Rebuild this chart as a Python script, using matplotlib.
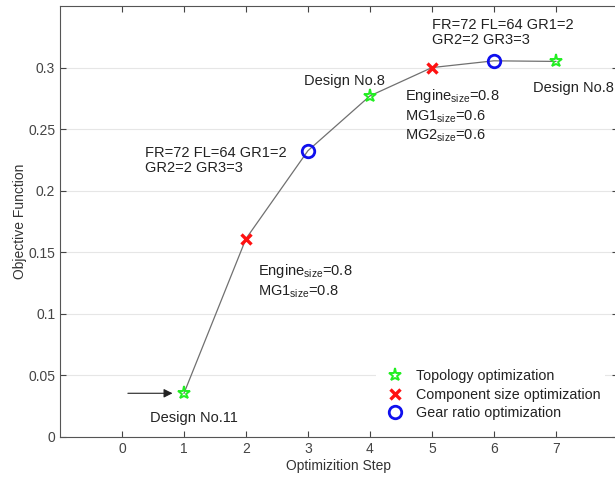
import matplotlib
matplotlib.use("Agg")
import matplotlib.pyplot as plt

plt.rcParams['font.family'] = ['Liberation Sans', 'DejaVu Sans']
plt.rcParams['mathtext.fontset'] = 'custom'
plt.rcParams['mathtext.rm'] = 'Liberation Sans'
plt.rcParams['mathtext.it'] = 'Liberation Sans'

steps = [1, 2, 3, 4, 5, 6, 7]
objective = [0.0355, 0.161, 0.2325, 0.277, 0.300, 0.3055, 0.305]
kinds = ['topo', 'size', 'gear', 'topo', 'size', 'gear', 'topo']

xticks = [0, 1, 2, 3, 4, 5, 6, 7]
yticks = [0, 0.05, 0.1, 0.15, 0.2, 0.25, 0.3]
ytick_labels = ['0', '0.05', '0.1', '0.15', '0.2', '0.25', '0.3']

fig = plt.figure(figsize=(6.15, 4.78), dpi=100)
ax = fig.add_axes([0.0976, 0.0858, 0.907, 0.9016])

ax.plot(steps, objective, color='#707070', lw=0.9, zorder=2)

styles = {
    'topo': dict(marker='*', color='none', mec='#22ee22', mew=1.4, ms=9.5, label='Topology optimization'),
    'size': dict(marker='x', color='none', mec='#ff1111', mew=2.4, ms=7, label='Component size optimization'),
    'gear': dict(marker='o', color='none', mec='#1010ee', mew=2.0, ms=9, label='Gear ratio optimization'),
}
for k in ['topo', 'size', 'gear']:
    xs = [s for s, kk in zip(steps, kinds) if kk == k]
    ys = [v for v, kk in zip(objective, kinds) if kk == k]
    st = dict(styles[k])
    if k != 'size':
        st['mfc'] = 'none'
    ax.plot(xs, ys, linestyle='none', zorder=3, **st)

ax.set_xlim(-1, 8)
ax.set_ylim(0, 0.35)
ax.set_xticks(xticks)
ax.set_yticks(yticks)
ax.set_yticklabels(ytick_labels)
ax.tick_params(direction='in', top=True, right=True, labelsize=10, colors='#444444', length=4)
ax.grid(axis='y', color='#e6e6e6', lw=0.8)
ax.set_axisbelow(True)
for sp in ax.spines.values():
    sp.set_color('#555555')
    sp.set_linewidth(0.8)

ax.set_xlabel('Optimizition Step', fontsize=10, color='#333333', labelpad=2)
ax.set_ylabel('Objective Function', fontsize=10, color='#333333', labelpad=1)

fs = 10.5
tc = '#222222'
ax.text(0.45, 0.0155, 'Design No.11', fontsize=fs, color=tc, ha='left', va='center')
ax.annotate('', xy=(0.86, 0.0355), xytext=(0.05, 0.0355),
            arrowprops=dict(arrowstyle='-|>', color='#222222', lw=0.8, mutation_scale=13))
ax.text(2.19, 0.1265, 'Engine$_{\\rm size}$=0.8\nMG1$_{\\rm size}$=0.8', fontsize=fs, color=tc,
        ha='left', va='center', linespacing=1.3)
ax.text(0.37, 0.2245, 'FR=72 FL=64 GR1=2\nGR2=2 GR3=3', fontsize=fs, color=tc,
        ha='left', va='center', linespacing=1.1)
ax.text(2.93, 0.2895, 'Design No.8', fontsize=fs, color=tc, ha='left', va='center')
ax.text(5.0, 0.3285, 'FR=72 FL=64 GR1=2\nGR2=2 GR3=3', fontsize=fs, color=tc,
        ha='left', va='center', linespacing=1.1)
ax.text(4.57, 0.261, 'Engine$_{\\rm size}$=0.8\nMG1$_{\\rm size}$=0.6\nMG2$_{\\rm size}$=0.6', fontsize=fs,
        color=tc, ha='left', va='center', linespacing=1.25)
ax.text(6.63, 0.2835, 'Design No.8', fontsize=fs, color=tc, ha='left', va='center')

leg = ax.legend(loc='lower right', bbox_to_anchor=(0.99, 0.013), frameon=True, fontsize=10.3,
                handletextpad=0.5, labelspacing=0.3, borderpad=0.3)
leg.get_frame().set_edgecolor('none')
leg.get_frame().set_facecolor('white')
leg.get_frame().set_alpha(1)
for t in leg.get_texts():
    t.set_color('#222222')

fig.savefig('out.png', dpi=100)
